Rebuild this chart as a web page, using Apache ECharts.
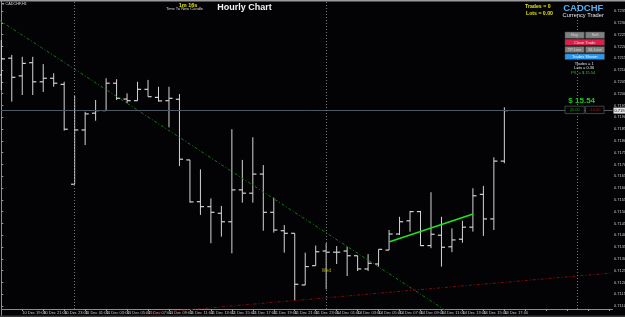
<!DOCTYPE html>
<html><head><meta charset="utf-8">
<script src="https://cdn.jsdelivr.net/npm/echarts@6/dist/echarts.min.js"></script>
<style>html,body{margin:0;padding:0;background:#000;}#c{width:625px;height:317px;}</style>
</head><body><div id="c"></div>
<script>
// OHLC of hourly bars (CADCHF, H1)
const opens  = [0.72079,0.72150,0.72075,0.72131,0.72050,0.72065,0.72039,0.71616,0.71846,0.71917,
                0.71928,0.72044,0.71977,0.71970,0.72018,0.71984,0.71970,0.71976,0.71719,0.71542,
                0.71521,0.71493,0.71457,0.71592,0.71578,0.71659,0.71497,0.71419,0.71408,0.71189,
                0.71271,0.71333,0.71328,0.71333,0.71313,0.71257,0.71278,0.71337,0.71405,0.71461,
                0.71500,0.71356,0.71400,0.71351,0.71383,0.71434,0.71573,0.71469,0.71714];
const highs  = [0.72227,0.72164,0.72156,0.72156,0.72125,0.72086,0.72050,0.71990,0.71923,0.71973,
                0.72065,0.72061,0.72001,0.72050,0.72058,0.72029,0.72029,0.71998,0.71719,0.71679,
                0.71556,0.71524,0.71849,0.71719,0.71815,0.71697,0.71559,0.71443,0.71408,0.71326,
                0.71356,0.71366,0.71354,0.71351,0.71313,0.71320,0.71340,0.71422,0.71478,0.71503,
                0.71503,0.71582,0.71478,0.71429,0.71461,0.71599,0.71609,0.71730,0.71942];
const lows   = [0.72015,0.71966,0.71994,0.71994,0.72007,0.72029,0.71843,0.71616,0.71782,0.71885,
                0.71928,0.71973,0.71959,0.71970,0.71987,0.71966,0.71857,0.71693,0.71538,0.71486,
                0.71366,0.71394,0.71323,0.71538,0.71538,0.71419,0.71411,0.71326,0.71125,0.71189,
                0.71271,0.71171,0.71278,0.71227,0.71248,0.71248,0.71267,0.71337,0.71401,0.71415,
                0.71354,0.71345,0.71267,0.71328,0.71368,0.71415,0.71397,0.71422,0.71705];
const closes = [0.72147,0.72069,0.72128,0.72050,0.72065,0.72044,0.71849,0.71846,0.71914,0.71928,
                0.72044,0.71980,0.71970,0.72018,0.71987,0.71969,0.71980,0.71722,0.71541,0.71521,
                0.71497,0.71457,0.71592,0.71578,0.71659,0.71497,0.71422,0.71408,0.71192,0.71267,
                0.71330,0.71328,0.71328,0.71313,0.71257,0.71281,0.71340,0.71405,0.71457,0.71500,
                0.71356,0.71404,0.71349,0.71380,0.71434,0.71567,0.71469,0.71714,0.71928];
// time labels, one every 2 bars
const xLabels = ['10 Dec 2015','10 Dec 19:00','10 Dec 21:00','10 Dec 23:00','11 Dec 01:00','11 Dec 03:00',
                 '11 Dec 05:00','11 Dec 07:00','11 Dec 09:00','11 Dec 11:00','11 Dec 13:00','11 Dec 15:00',
                 '11 Dec 17:00','11 Dec 19:00','11 Dec 21:00','11 Dec 23:00','14 Dec 01:00','14 Dec 03:00',
                 '14 Dec 05:00','14 Dec 07:00','14 Dec 09:00','14 Dec 11:00','14 Dec 13:00','14 Dec 15:00',
                 '14 Dec 17:00'];
const currentPrice = 0.71928;
const separatorBars = [7, 31, 55];
const trendDown = [[-0.12, 0.72309], [42.5, 0.71078]];
const trendRed = [[14.19, 0.71070], [58.32, 0.71240]];
const trendUp = [[36.99, 0.71371], [45.01, 0.71490]];

const FONT = 'Liberation Sans, Arial, sans-serif';
const chart = echarts.init(document.getElementById('c'), null, {renderer: 'canvas'});
const bars = opens.map((o, i) => [i, o, highs[i], lows[i], closes[i]]);

function txt(text, x, y, size, color, align, bold) {
  return {type: 'text', x: x, y: y, z: 100,
    style: {text: text, fill: color, font: (bold ? 'bold ' : '') + size + 'px ' + FONT,
      textAlign: align || 'center', textVerticalAlign: 'middle', align: align || 'center', verticalAlign: 'middle'}};
}
function btn(text, x, y, w, h, fill, tcolor) {
  return [
    {type: 'rect', z: 99, shape: {x: x, y: y, width: w, height: h}, style: {fill: fill, stroke: '#4a4a4a', lineWidth: 0.5}},
    txt(text, x + w / 2, y + h / 2 + 0.2, 4, tcolor)
  ];
}

const option = {
  backgroundColor: '#030306',
  animation: false,
  grid: {left: 1.3, right: 12.5, top: -0.8, bottom: -0.8, containLabel: false, outerBoundsMode: 'none'},
  xAxis: {
    type: 'value', min: 0, max: 58.32, interval: 2, offset: -8.8,
    axisLine: {show: true, lineStyle: {color: '#8c8c8c', width: 1}},
    axisTick: {show: true, length: 2, lineStyle: {color: '#9a9a9a'}},
    splitLine: {show: false},
    axisLabel: {color: '#c8c8c8', fontSize: 4, fontFamily: FONT, align: 'left', margin: 1.6,
      showMaxLabel: false, formatter: v => xLabels[v / 2] || ''}
  },
  yAxis: {
    type: 'value', position: 'right', min: 0.7105, max: 0.7240, interval: 0.0005,
    axisLine: {show: true, lineStyle: {color: '#8c8c8c', width: 1}},
    axisTick: {show: true, length: 2, lineStyle: {color: '#9a9a9a'}},
    splitLine: {show: false},
    axisLabel: {color: '#c8c8c8', fontSize: 4, fontFamily: FONT, margin: 1.5,
      showMinLabel: false, showMaxLabel: false, formatter: v => v.toFixed(5)}
  },
  series: [
    {
      type: 'line', data: [], symbol: 'none', silent: true,
      markLine: {
        symbol: 'none', silent: true, animation: false, precision: 5,
        data: [
          {yAxis: currentPrice, lineStyle: {color: '#505862', width: 1, type: 'solid'},
           label: {show: true, position: 'end', formatter: currentPrice.toFixed(5), fontSize: 4, fontFamily: FONT,
             color: '#000', backgroundColor: '#e6e6e6', padding: [1, 2, 1, 1], distance: 1}}
        ].concat(separatorBars.map(b => [
          {coord: [b, 0.72388], lineStyle: {color: '#7a7a7a', width: 1, type: [1, 2]}, label: {show: false}},
          {coord: [b, 0.71087]}
        ]))
      }
    },
    {type: 'line', data: trendDown, symbol: 'none', clip: false, silent: true,
     lineStyle: {color: '#0e7a12', width: 1, type: [3, 2, 1, 2]}},
    {type: 'line', data: trendRed, symbol: 'none', clip: false, silent: true,
     lineStyle: {color: '#7c0c0c', width: 1, type: [3, 2, 1, 2]}},
    {type: 'line', data: trendUp, symbol: 'none', clip: false, silent: true,
     lineStyle: {color: '#22e022', width: 1.5}},
    {
      type: 'custom', data: bars, clip: false, silent: true,
      encode: {x: 0, y: [1, 2, 3, 4]},
      renderItem: function (params, api) {
        const x = api.value(0);
        const o = api.coord([x, api.value(1)]);
        const h = api.coord([x, api.value(2)]);
        const l = api.coord([x, api.value(3)]);
        const c = api.coord([x, api.value(4)]);
        const w = 3.6, col = '#d4d4d4';
        return {type: 'group', children: [
          {type: 'line', shape: {x1: h[0], y1: h[1], x2: l[0], y2: l[1]}, style: {stroke: col, lineWidth: 1}},
          {type: 'line', shape: {x1: o[0] - w, y1: o[1], x2: o[0], y2: o[1]}, style: {stroke: col, lineWidth: 1.2}},
          {type: 'line', shape: {x1: c[0], y1: c[1], x2: c[0] + w, y2: c[1]}, style: {stroke: col, lineWidth: 1.2}}
        ]};
      }
    }
  ],
  graphic: [
    {type: 'rect', z: 98, shape: {x: 0, y: 0, width: 625, height: 1.5}, style: {fill: '#9a9a9a'}},
    {type: 'rect', z: 98, shape: {x: 0, y: 315.5, width: 625, height: 1.5}, style: {fill: '#3a3a3a'}},
    {type: 'polygon', z: 100, shape: {points: [[1.8, 3.2], [4.4, 3.2], [3.1, 5]]}, style: {fill: '#dcdcdc'}},
    txt('CADCHF,H1', 5.5, 4.3, 3.8, '#dcdcdc', 'left'),
    txt('1m 16s', 188, 5, 5.5, '#e2e200', 'center', true),
    txt('Time To New Candle', 184.5, 9, 4, '#d6d6d6'),
    txt('Hourly Chart', 244.5, 7.6, 9, '#f2f2f2', 'center', true),
    txt('Trades = 0', 525, 6.8, 5.2, '#e2e200', 'left', true),
    txt('Lots = 0.00', 526, 13.9, 5.2, '#e2e200', 'left', true),
    txt('CADCHF', 583.3, 7.9, 9.5, '#5aaee8', 'center', true),
    txt('Currency Trader', 583.2, 15, 5.7, '#e6e6e6'),
    ...btn('Buy', 565, 32, 19.3, 6.3, '#808080', '#d0d0d0'),
    ...btn('Sell', 585.5, 32, 19, 6.3, '#808080', '#d0d0d0'),
    ...btn('Close Trade', 565, 39.3, 39.5, 5.9, '#e01e4a', '#f6d0d8'),
    ...btn('TP Line', 565, 46.6, 19.3, 6, '#808080', '#d0d0d0'),
    ...btn('SL Line', 585.5, 46.6, 19, 6, '#808080', '#d0d0d0'),
    ...btn('Trades Shown', 565, 53.8, 39.5, 5.7, '#2a9af0', '#e6f2ff'),
    txt('Trades = 1', 584.2, 64, 4, '#e6e6e6'),
    txt('Lots = 0.36', 584.3, 68, 4, '#e6e6e6'),
    txt('P/L = $ 15.54', 583.3, 72.6, 4, '#22c822'),
    txt('$ 15.54', 581.7, 101, 8, '#1ec81e', 'center', true),
    {type: 'rect', z: 99, shape: {x: 565, y: 106.2, width: 19.3, height: 7.4}, style: {fill: '#050505', stroke: '#6a6a6a', lineWidth: 0.6}},
    txt('20.00', 574.7, 110, 4, '#1a9a1a'),
    {type: 'rect', z: 99, shape: {x: 585.6, y: 106.2, width: 18.4, height: 7.4}, style: {fill: '#050505', stroke: '#6a6a6a', lineWidth: 0.6}},
    txt('-10.00', 594.8, 110, 4, '#a01818'),
    txt('Wed', 326.3, 271, 4.5, '#b8b800')
  ]
};
chart.setOption(option);
</script>
</body></html>
